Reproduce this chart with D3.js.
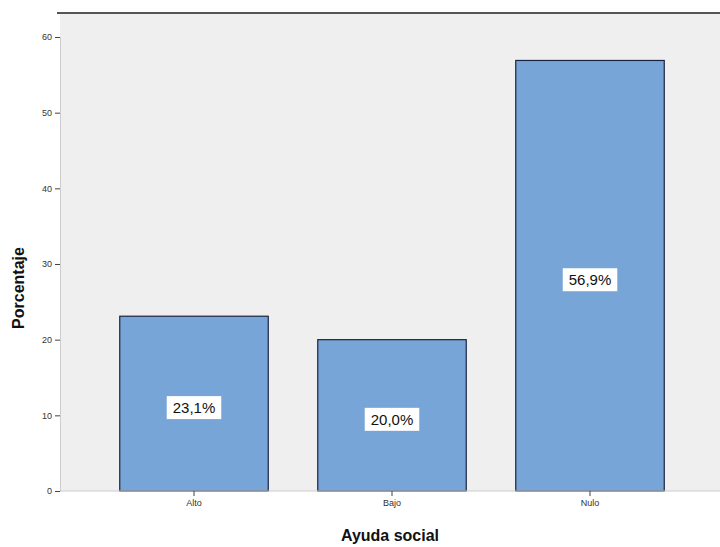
<!DOCTYPE html>
<html><head><meta charset="utf-8">
<script src="https://cdn.jsdelivr.net/npm/d3@7"></script>
<style>body{margin:0;background:#fff}svg{display:block}</style>
</head><body>
<svg id="c" width="720" height="547"></svg>
<script>
const categories = ["Alto", "Bajo", "Nulo"];
const values = [23.1, 20.0, 56.9];
const valueLabels = ["23,1%", "20,0%", "56,9%"];
const yTicks = [0, 10, 20, 30, 40, 50, 60];
const xTitle = "Ayuda social";
const yTitle = "Porcentaje";

(function () {
const svg = d3.select("#c");
const pL = 60, pR = 720, pT = 13, pB = 491;

const y = d3.scaleLinear().domain([0, 60]).range([pB, 37]);
const x = d3.scaleBand().domain(categories).range([pL + 35, pR - 31]).paddingInner(0.25).paddingOuter(0.125);

svg.append("rect").attr("x", pL).attr("y", pT).attr("width", pR - pL).attr("height", pB - pT).attr("fill", "#efefef");
svg.append("line").attr("x1", 57).attr("x2", pR).attr("y1", pT).attr("y2", pT).attr("stroke", "#555").attr("stroke-width", 2);

const g = svg.append("g");
g.selectAll("rect.bar").data(categories).join("rect").attr("class", "bar")
  .attr("x", d => x(d)).attr("width", x.bandwidth())
  .attr("y", (d, i) => y(values[i])).attr("height", (d, i) => y(0) - y(values[i]))
  .attr("fill", "#77a5d7").attr("stroke", "#1b2440").attr("stroke-width", 1.2);

categories.forEach((c, i) => {
  const cx = x(c) + x.bandwidth() / 2;
  const cy = y(values[i] / 2) + 4;
  const t = g.append("text").attr("x", cx).attr("y", cy).attr("text-anchor", "middle").attr("dominant-baseline", "central")
    .attr("font-family", "Arial, Liberation Sans, sans-serif").attr("font-size", 15).attr("fill", "#111").text(valueLabels[i]);
  const bb = t.node().getBBox();
  g.insert("rect", () => t.node()).attr("x", bb.x - 6).attr("y", bb.y - 3).attr("width", bb.width + 12).attr("height", bb.height + 6).attr("fill", "#fff");
});

const yAxis = d3.axisLeft(y).tickValues(yTicks).tickSize(5).tickPadding(3);
const ya = svg.append("g").attr("transform", `translate(${pL},0)`).call(yAxis);
ya.select(".domain").attr("stroke", "#ccc");
ya.selectAll(".tick line").attr("stroke", "#444");
ya.selectAll("text").attr("font-family", "Arial, Liberation Sans, sans-serif").attr("font-size", 9).attr("fill", "#333");

const xAxis = d3.axisBottom(x).tickSize(5).tickPadding(4);
const xa = svg.append("g").attr("transform", `translate(0,${pB})`).call(xAxis);
xa.select(".domain").attr("stroke", "#ccc").attr("d", `M${pL},0H${pR}`);
xa.selectAll(".tick line").attr("stroke", "#444");
xa.selectAll("text").attr("font-family", "Arial, Liberation Sans, sans-serif").attr("font-size", 9).attr("fill", "#333");

svg.append("text").attr("x", (pL + 35 + pR - 31) / 2 - 2).attr("y", 541).attr("text-anchor", "middle")
  .attr("font-family", "Arial, Liberation Sans, sans-serif").attr("font-size", 16).attr("font-weight", 600).attr("fill", "#111").text(xTitle);
svg.append("text").attr("transform", "translate(24,288) rotate(-90)").attr("text-anchor", "middle")
  .attr("font-family", "Arial, Liberation Sans, sans-serif").attr("font-size", 16).attr("font-weight", 600).attr("fill", "#111").text(yTitle);
})();
</script>
</body></html>
